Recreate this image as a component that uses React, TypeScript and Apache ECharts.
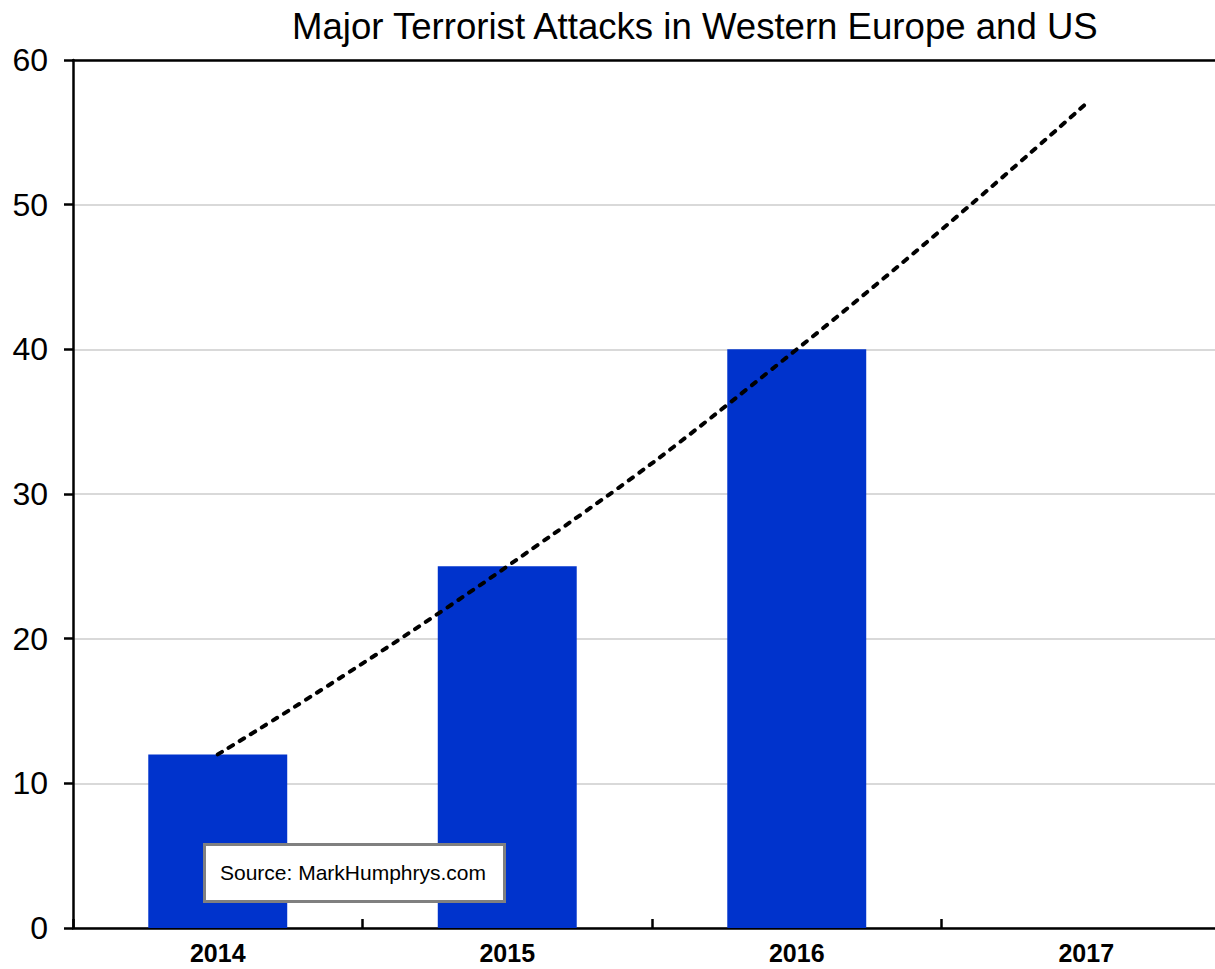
import React, { useEffect, useRef } from "react";
import * as echarts from "echarts";

const years = ["2014", "2015", "2016", "2017"];
const attacks = [12, 25, 40, null];
const trend = [12, 25, 40, 57];
const yTicks = { min: 0, max: 60, interval: 10 };
const titleText = "Major Terrorist Attacks in Western Europe and US";
const sourceText = "Source: MarkHumphrys.com";

export default function App() {
  const ref = useRef<HTMLDivElement>(null);
  useEffect(() => {
    const chart = echarts.init(ref.current!, null, { renderer: "svg" });
    const font = "'Liberation Sans', Arial, sans-serif";
    chart.setOption({
      animation: false,
      backgroundColor: "#ffffff",
      title: {
        text: titleText,
        left: 287,
        top: 3,
        textStyle: { fontFamily: font, fontSize: 36.6, fontWeight: "normal", color: "#000" },
      },
      grid: { left: 73, top: 60, width: 1158, height: 868, containLabel: false },
      xAxis: [
        {
          type: "category",
          data: years,
          position: "bottom",
          axisLine: { show: true, lineStyle: { color: "#000", width: 2.5 } },
          axisTick: { show: true, inside: true, length: 9, lineStyle: { color: "#000", width: 2.5 } },
          axisLabel: { fontFamily: font, fontSize: 25, fontWeight: "bold", color: "#000", margin: 12 },
          splitLine: { show: false },
        },
        {
          type: "category",
          data: years,
          position: "top",
          axisLine: { show: true, lineStyle: { color: "#000", width: 2.5 } },
          axisTick: { show: false },
          axisLabel: { show: false },
        },
      ],
      yAxis: {
        type: "value",
        min: yTicks.min,
        max: yTicks.max,
        interval: yTicks.interval,
        axisLine: { show: true, lineStyle: { color: "#000", width: 2.5 } },
        axisTick: { show: true, inside: false, length: 9, lineStyle: { color: "#000", width: 2.5 } },
        axisLabel: { fontFamily: font, fontSize: 32, color: "#000", margin: 25 },
        splitLine: { show: true, lineStyle: { color: "#d9d9d9", width: 2 } },
      },
      series: [
        {
          type: "bar",
          data: attacks,
          barWidth: "48%",
          itemStyle: { color: "#0033CC" },
          z: 2,
        },
        {
          type: "line",
          data: trend,
          smooth: true,
          symbol: "none",
          lineStyle: { color: "#000", width: 4, type: [5, 8], cap: "round" },
          z: 3,
        },
      ],
      graphic: [
        {
          type: "rect",
          left: 203,
          top: 843,
          z: 100,
          shape: { width: 300, height: 57 },
          style: { fill: "#fff", stroke: "#808080", lineWidth: 3 },
        },
        {
          type: "text",
          x: 353,
          y: 872,
          z: 101,
          style: {
            text: sourceText,
            fontFamily: font,
            fontSize: 21,
            fill: "#000",
            align: "center",
            verticalAlign: "middle",
          },
        },
      ],
    });
    return () => chart.dispose();
  }, []);
  return (
    <div style={{ position: "fixed", left: 0, top: 0, width: 1215, height: 969, overflow: "hidden" }}>
      <div ref={ref} style={{ width: 1232, height: 969 }} />
    </div>
  );
}
